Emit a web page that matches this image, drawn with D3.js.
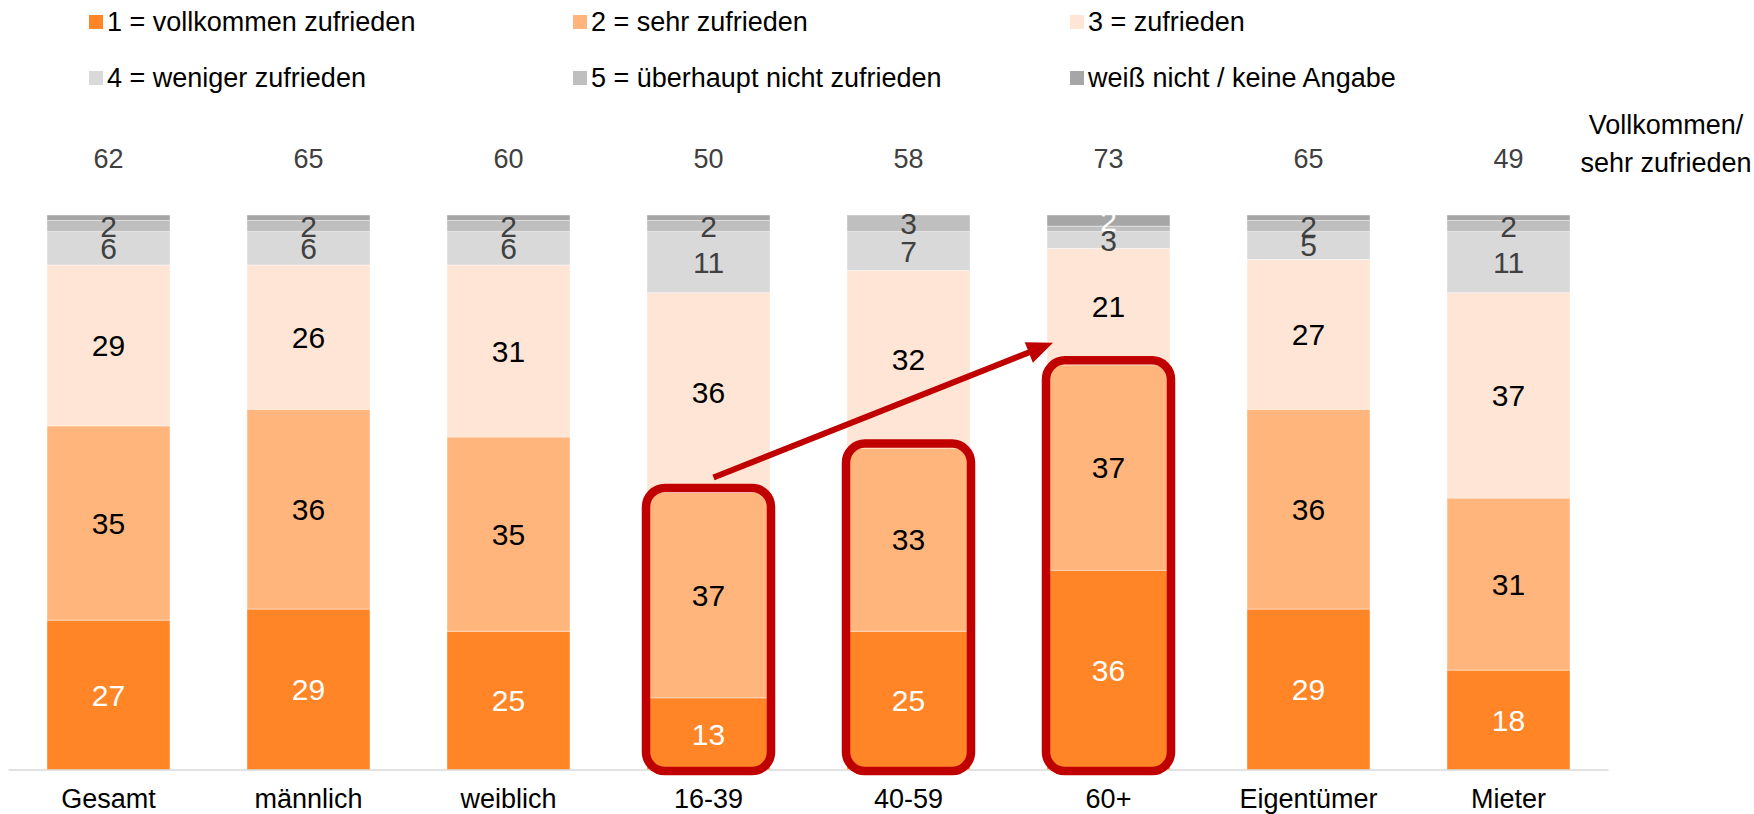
<!DOCTYPE html>
<html>
<head>
<meta charset="utf-8">
<script src="https://cdn.jsdelivr.net/npm/d3@7"></script>
<style>
  html, body { margin: 0; padding: 0; background: #fff; }
  svg { display: block; font-family: "Liberation Sans", Arial, sans-serif; }
</style>
</head>
<body>
<div id="chart"></div>
<script>
// categories and values (percent)
let categories = ["Gesamt", "männlich", "weiblich", "16-39", "40-59", "60+", "Eigentümer", "Mieter"];
let vollkommen = [27, 29, 25, 13, 25, 36, 29, 18];
let sehr = [35, 36, 35, 37, 33, 37, 36, 31];
let zufrieden = [29, 26, 31, 36, 32, 21, 27, 37];
let weniger = [6, 6, 6, 11, 7, 3, 5, 11];
let ueberhaupt = [2, 2, 2, 2, 3, 1, 2, 2];
let weissNicht = [1, 1, 1, 1, 0, 2, 1, 1];
let topTotals = [62, 65, 60, 50, 58, 73, 65, 49];

let seriesNames = ["1 = vollkommen zufrieden", "2 = sehr zufrieden", "3 = zufrieden",
    "4 = weniger zufrieden", "5 = überhaupt nicht zufrieden", "weiß nicht / keine Angabe"];
let seriesColors = ["#ff8527", "#ffb57c", "#ffe5d5", "#d9d9d9", "#bfbfbf", "#a6a6a6"];
let labelColors = ["#fff", "#000", "#000", "#404040", "#404040", "#fff"];
let highlighted = ["16-39", "40-59", "60+"];

let chartWidth = 1754;
let chartHeight = 814;

let keys = ["v1", "v2", "v3", "v4", "v5", "v6"];
let table = categories.map(function (c, i) {
    return {
        cat: c,
        v1: vollkommen[i], v2: sehr[i], v3: zufrieden[i],
        v4: weniger[i], v5: ueberhaupt[i], v6: weissNicht[i],
        total: topTotals[i]
    };
});

let x = d3.scaleBand()
    .domain(categories)
    .range([8.5, 1608.5])
    .paddingInner(0.385)
    .paddingOuter(0.1925);

let y = d3.scaleLinear()
    .domain([0, 100])
    .range([770, 215]);

let svg = d3.select("#chart").append("svg")
    .attr("width", chartWidth)
    .attr("height", chartHeight);

// legend
let legend = svg.append("g").attr("class", "legend");
let legendCols = [89, 573, 1070];
let legendRows = [22, 78];
seriesNames.forEach(function (name, i) {
    let lx = legendCols[i % 3], ly = legendRows[Math.floor(i / 3)];
    legend.append("rect")
        .attr("x", lx).attr("y", ly - 7)
        .attr("width", 14).attr("height", 14)
        .attr("fill", seriesColors[i]);
    legend.append("text")
        .attr("x", lx + 18).attr("y", ly)
        .attr("dy", "0.35em")
        .attr("font-size", 27)
        .attr("fill", "#000")
        .text(name);
});

let stacked = d3.stack().keys(keys)(table);

// bars
let layers = svg.selectAll(".layer")
    .data(stacked)
    .enter().append("g")
    .attr("class", "layer")
    .attr("fill", function (d, i) { return seriesColors[i]; });

layers.selectAll("rect")
    .data(function (d) { return d; })
    .enter().append("rect")
    .attr("x", function (d) { return x(d.data.cat); })
    .attr("width", x.bandwidth())
    .attr("y", function (d) { return y(d[1]); })
    .attr("height", function (d) { return y(d[0]) - y(d[1]); })
    .attr("stroke", "rgba(255,255,255,0.5)")
    .attr("stroke-width", 0.8);

// segment labels
stacked.forEach(function (layer, i) {
    svg.append("g").selectAll("text")
        .data(layer.filter(function (d) { return d[1] - d[0] >= 2; }))
        .enter().append("text")
        .attr("x", function (d) { return x(d.data.cat) + x.bandwidth() / 2; })
        .attr("y", function (d) { return y((d[0] + d[1]) / 2); })
        .attr("dy", "0.36em")
        .attr("text-anchor", "middle")
        .attr("font-size", 30)
        .attr("fill", labelColors[i])
        .text(function (d) { return d[1] - d[0]; });
});

// baseline
svg.append("line")
    .attr("x1", x.range()[0]).attr("x2", x.range()[1])
    .attr("y1", y(0)).attr("y2", y(0))
    .attr("stroke", "#d9d9d9")
    .attr("stroke-width", 1.5);

// category labels
svg.append("g").selectAll("text")
    .data(categories)
    .enter().append("text")
    .attr("x", function (d) { return x(d) + x.bandwidth() / 2; })
    .attr("y", 799)
    .attr("dy", "0.35em")
    .attr("text-anchor", "middle")
    .attr("font-size", 27)
    .attr("fill", "#000")
    .text(function (d) { return d; });

// totals above bars
svg.append("g").selectAll("text")
    .data(table)
    .enter().append("text")
    .attr("x", function (d) { return x(d.cat) + x.bandwidth() / 2; })
    .attr("y", 159)
    .attr("dy", "0.35em")
    .attr("text-anchor", "middle")
    .attr("font-size", 27)
    .attr("fill", "#404040")
    .text(function (d) { return d.total; });

svg.append("text")
    .attr("x", 1666).attr("y", 125)
    .attr("dy", "0.35em")
    .attr("text-anchor", "middle")
    .attr("font-size", 27)
    .text("Vollkommen/");
svg.append("text")
    .attr("x", 1666).attr("y", 163)
    .attr("dy", "0.35em")
    .attr("text-anchor", "middle")
    .attr("font-size", 27)
    .text("sehr zufrieden");

// red highlight boxes round 1 + 2
svg.append("g").selectAll("rect")
    .data(table.filter(function (d) { return highlighted.indexOf(d.cat) >= 0; }))
    .enter().append("rect")
    .attr("x", function (d) { return x(d.cat) - 1; })
    .attr("y", function (d) { return y(d.v1 + d.v2) - 4.5; })
    .attr("width", x.bandwidth() + 2)
    .attr("height", function (d) { return y(0) + 1 - (y(d.v1 + d.v2) - 4.5); })
    .attr("rx", 19)
    .attr("fill", "none")
    .attr("stroke", "#c00000")
    .attr("stroke-width", 8.5);

// arrow
let first = table[categories.indexOf("16-39")];
let last = table[categories.indexOf("60+")];
let x1 = x(first.cat) + x.bandwidth() / 2 + 5, y1 = y(first.v1 + first.v2) - 15;
let x2 = x(last.cat) + 6, y2 = y(last.v1 + last.v2) - 22;
let ang = Math.atan2(y2 - y1, x2 - x1);
let headLen = 26, headW = 11;
let bx = x2 - headLen * Math.cos(ang), by = y2 - headLen * Math.sin(ang);
svg.append("line")
    .attr("x1", x1).attr("y1", y1)
    .attr("x2", bx + 2 * Math.cos(ang)).attr("y2", by + 2 * Math.sin(ang))
    .attr("stroke", "#c00000")
    .attr("stroke-width", 6);
svg.append("path")
    .attr("d", "M" + x2 + "," + y2 +
        "L" + (bx + headW * Math.sin(ang)) + "," + (by - headW * Math.cos(ang)) +
        "L" + (bx - headW * Math.sin(ang)) + "," + (by + headW * Math.cos(ang)) + "Z")
    .attr("fill", "#c00000");
</script>
</body>
</html>
